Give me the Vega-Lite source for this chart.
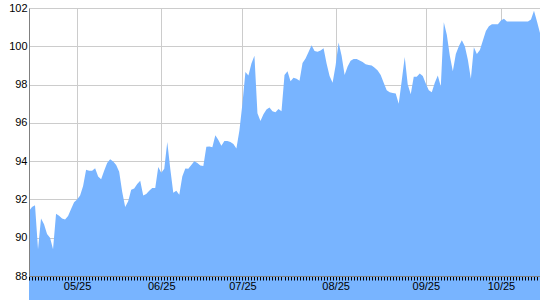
{
  "$schema": "https://vega.github.io/schema/vega-lite/v6.json",
  "width": 511,
  "height": 268,
  "autosize": {"type": "none"},
  "padding": {"left": 29, "top": 8, "right": 0, "bottom": 24},
  "config": {
    "view": {"stroke": null},
    "axis": {"labelFont": "Liberation Sans", "labelFontSize": 11, "labelColor": "#000000", "title": null}
  },
  "data": {"values": [
    {"d":"05/09","v":91.4},{"d":"05/10","v":91.6},{"d":"05/11","v":91.7},{"d":"05/12","v":89.4},{"d":"05/13","v":91.0},
    {"d":"05/14","v":90.7},{"d":"05/15","v":90.2},{"d":"05/16","v":90.0},{"d":"05/17","v":89.4},{"d":"05/18","v":91.25},
    {"d":"05/19","v":91.15},{"d":"05/20","v":91.0},{"d":"05/21","v":90.95},{"d":"05/22","v":91.13},{"d":"05/23","v":91.5},
    {"d":"05/24","v":91.85},{"d":"05/25","v":92.0},{"d":"05/26","v":92.2},{"d":"05/27","v":92.7},{"d":"05/29","v":93.55},
    {"d":"05/30","v":93.5},{"d":"05/31","v":93.5},{"d":"06/01","v":93.63},{"d":"06/02","v":93.2},{"d":"06/03","v":93.05},
    {"d":"06/05","v":93.5},{"d":"06/06","v":93.9},{"d":"06/07","v":94.1},{"d":"06/08","v":93.98},{"d":"06/09","v":93.8},
    {"d":"06/10","v":93.45},{"d":"06/12","v":92.4},{"d":"06/13","v":91.6},{"d":"06/14","v":91.9},{"d":"06/15","v":92.5},
    {"d":"06/16","v":92.57},{"d":"06/17","v":92.8},{"d":"06/18","v":92.97},{"d":"06/19","v":92.2},{"d":"06/20","v":92.28},
    {"d":"06/21","v":92.45},{"d":"06/22","v":92.6},{"d":"06/23","v":92.6},{"d":"06/24","v":93.7},{"d":"06/25","v":93.4},
    {"d":"06/26","v":93.6},{"d":"06/27","v":95.0},{"d":"06/28","v":93.6},{"d":"06/29","v":92.35},{"d":"06/30","v":92.45},
    {"d":"07/01","v":92.25},{"d":"07/03","v":93.2},{"d":"07/04","v":93.62},{"d":"07/05","v":93.6},{"d":"07/06","v":93.8},
    {"d":"07/07","v":94.0},{"d":"07/08","v":93.9},{"d":"07/10","v":93.77},{"d":"07/11","v":93.74},{"d":"07/12","v":94.75},
    {"d":"07/13","v":94.77},{"d":"07/14","v":94.73},{"d":"07/15","v":95.35},{"d":"07/17","v":95.1},{"d":"07/18","v":94.8},
    {"d":"07/19","v":95.05},{"d":"07/20","v":95.05},{"d":"07/21","v":95.0},{"d":"07/22","v":94.9},{"d":"07/23","v":94.66},
    {"d":"07/24","v":95.6},{"d":"07/25","v":97.0},{"d":"07/26","v":98.66},{"d":"07/27","v":98.47},{"d":"07/28","v":99.1},
    {"d":"07/29","v":99.5},{"d":"07/30","v":96.5},{"d":"07/31","v":96.1},{"d":"08/01","v":96.45},{"d":"08/02","v":96.7},
    {"d":"08/03","v":96.8},{"d":"08/04","v":96.6},{"d":"08/05","v":96.55},{"d":"08/06","v":96.72},{"d":"08/07","v":96.6},
    {"d":"08/08","v":98.5},{"d":"08/09","v":98.7},{"d":"08/10","v":98.17},{"d":"08/11","v":98.35},{"d":"08/12","v":98.3},
    {"d":"08/13","v":98.2},{"d":"08/14","v":99.13},{"d":"08/15","v":99.36},{"d":"08/16","v":99.7},{"d":"08/17","v":100.05},
    {"d":"08/18","v":99.75},{"d":"08/19","v":99.72},{"d":"08/20","v":99.78},{"d":"08/21","v":99.9},{"d":"08/22","v":99.1},
    {"d":"08/23","v":98.45},{"d":"08/24","v":98.1},{"d":"08/25","v":99.0},{"d":"08/26","v":100.2},{"d":"08/27","v":99.5},
    {"d":"08/28","v":98.5},{"d":"08/29","v":98.95},{"d":"08/30","v":99.25},{"d":"08/31","v":99.34},{"d":"09/01","v":99.34},
    {"d":"09/02","v":99.26},{"d":"09/04","v":99.18},{"d":"09/05","v":99.06},{"d":"09/06","v":99.02},{"d":"09/07","v":99.0},
    {"d":"09/08","v":98.88},{"d":"09/09","v":98.73},{"d":"09/10","v":98.5},{"d":"09/11","v":98.1},{"d":"09/12","v":97.7},
    {"d":"09/13","v":97.6},{"d":"09/14","v":97.56},{"d":"09/15","v":97.54},{"d":"09/16","v":97.0},{"d":"09/17","v":98.2},
    {"d":"09/18","v":99.44},{"d":"09/19","v":98.0},{"d":"09/20","v":97.5},{"d":"09/21","v":98.41},{"d":"09/22","v":98.41},
    {"d":"09/23","v":98.58},{"d":"09/24","v":98.45},{"d":"09/25","v":98.05},{"d":"09/26","v":97.7},{"d":"09/27","v":97.6},
    {"d":"09/28","v":98.1},{"d":"09/29","v":98.48},{"d":"09/30","v":97.9},{"d":"10/06","v":101.26},{"d":"10/07","v":100.6},
    {"d":"10/08","v":99.5},{"d":"10/09","v":98.7},{"d":"10/10","v":99.6},{"d":"10/11","v":100.0},{"d":"10/12","v":100.32},
    {"d":"10/13","v":100.0},{"d":"10/14","v":99.3},{"d":"10/15","v":98.3},{"d":"10/16","v":99.95},{"d":"10/17","v":99.6},
    {"d":"10/18","v":99.8},{"d":"10/19","v":100.3},{"d":"10/20","v":100.8},{"d":"10/21","v":101.05},{"d":"10/22","v":101.15},
    {"d":"10/23","v":101.15},{"d":"10/24","v":101.15},{"d":"10/25","v":101.35},{"d":"10/26","v":101.44},{"d":"10/27","v":101.3},
    {"d":"10/28","v":101.3},{"d":"10/29","v":101.3},{"d":"10/30","v":101.3},{"d":"10/31","v":101.3},{"d":"11/01","v":101.3},
    {"d":"11/02","v":101.3},{"d":"11/03","v":101.3},{"d":"11/04","v":101.4},{"d":"11/05","v":101.86},{"d":"11/06","v":101.3},
    {"d":"11/07","v":100.7}
  ]},
  "layer": [
    {
      "mark": {"type": "area", "color": "#78b4ff", "opacity": 1, "interpolate": "linear"},
      "encoding": {
        "x": {"field": "d", "type": "ordinal", "sort": null, "scale": {"type": "point", "padding": 0},
          "axis": {"orient": "bottom", "domain": false, "ticks": false, "labels": false, "grid": true, "gridColor": "#cccccc", "gridWidth": 1,
            "gridOpacity": {"condition": {"test": "indexof(['05/25','06/25','07/25','08/25','09/25','10/25'], datum.value) >= 0", "value": 1}, "value": 0},
            "zindex": 0}},
        "y": {"field": "v", "type": "quantitative", "scale": {"domain": [88, 102], "zero": false, "nice": false},
          "axis": {"orient": "left", "domain": false, "ticks": false, "labels": false, "grid": true, "gridColor": "#cccccc", "values": [88, 90, 92, 94, 96, 98, 100, 102], "zindex": 0}}
      }
    },
    {
      "mark": {"type": "line", "opacity": 0},
      "encoding": {
        "x": {"field": "d", "type": "ordinal", "sort": null, "scale": {"type": "point", "padding": 0},
          "axis": {"orient": "bottom", "grid": false, "domain": true, "domainColor": "#808080", "ticks": true, "tickColor": "#000000", "tickSize": 4,
            "labelPadding": 0, "labelOverlap": false, "labelBound": false, "labelAngle": 0,
            "labelExpr": "indexof(['05/25','06/25','07/25','08/25','09/25','10/25'], datum.value) >= 0 ? datum.value : ''",
            "zindex": 1}},
        "y": {"field": "v", "type": "quantitative",
          "axis": {"orient": "left", "grid": false, "domain": true, "domainColor": "#808080", "ticks": false, "labelPadding": 2, "values": [88, 90, 92, 94, 96, 98, 100, 102], "zindex": 1}}
      }
    }
  ],
  "resolve": {"axis": {"x": "independent", "y": "independent"}}
}
